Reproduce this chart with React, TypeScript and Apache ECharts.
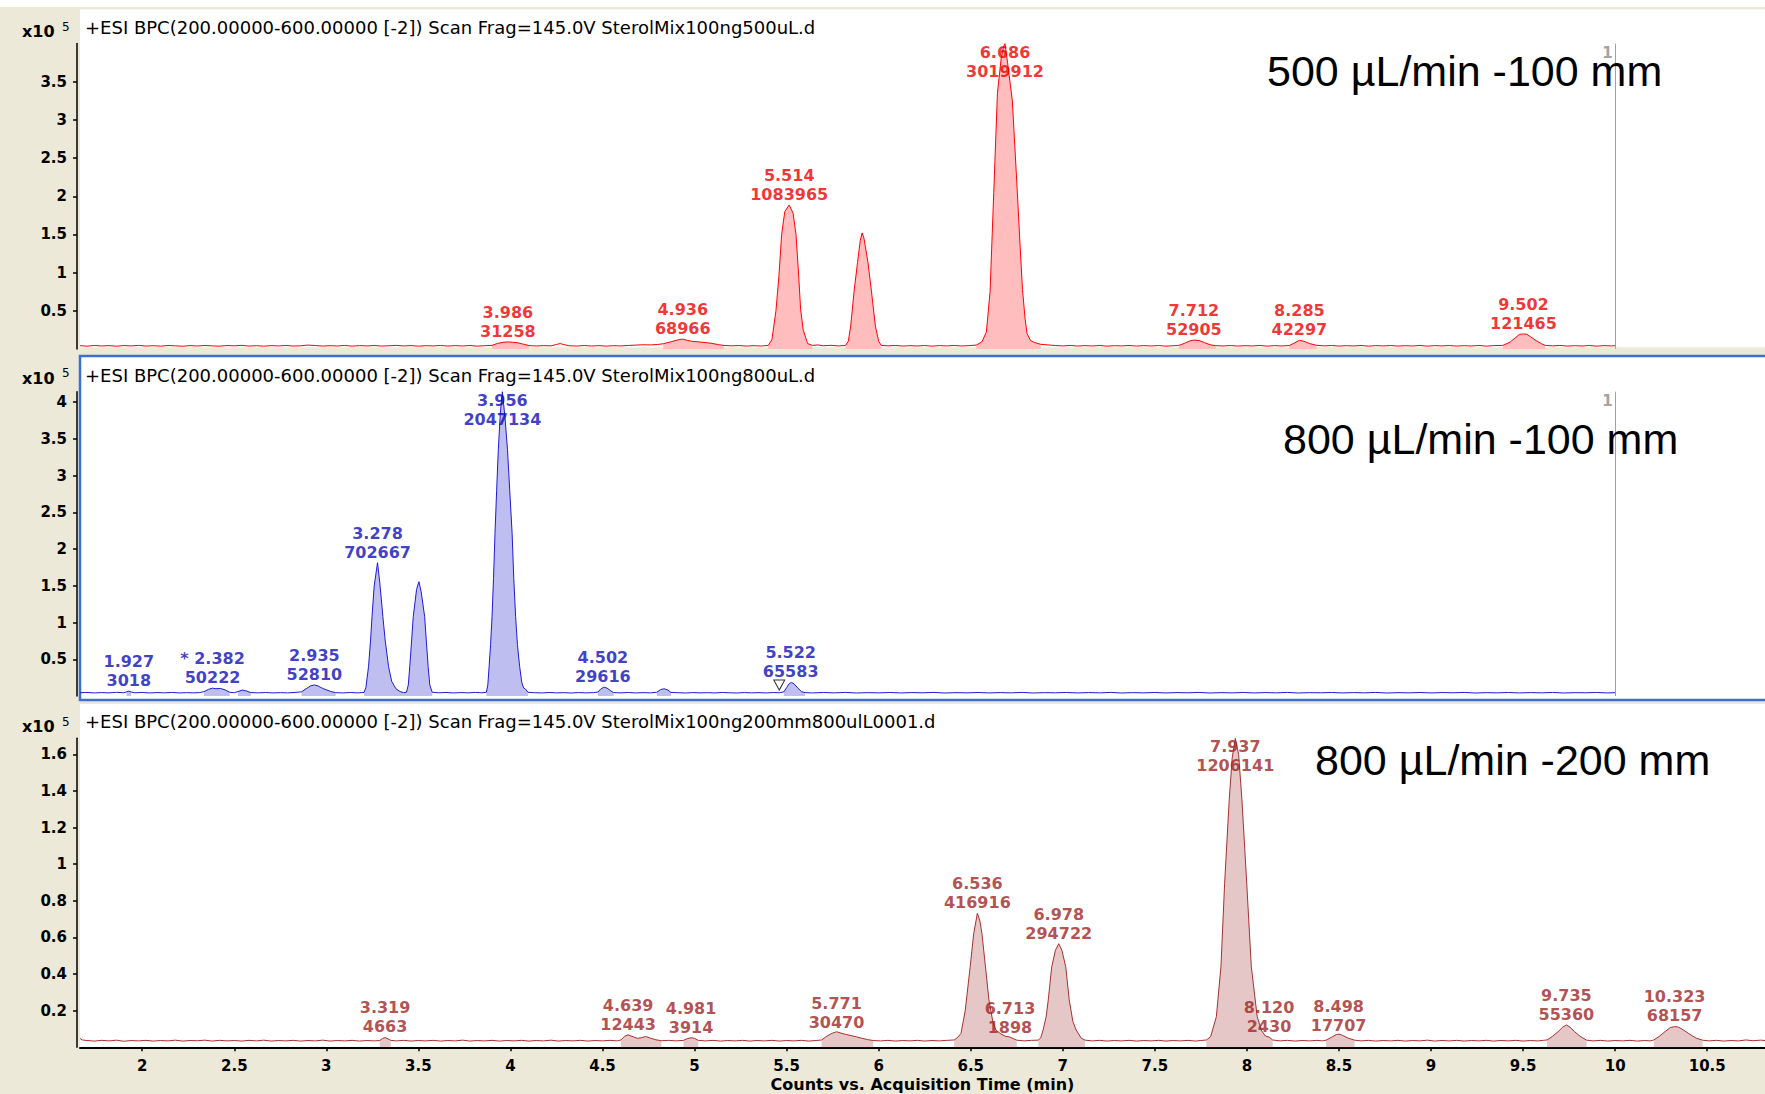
import React, { useEffect, useRef } from "react";
import * as echarts from "echarts";

// ---------- DATA ----------
const X_MIN = 1.662;
const X_MAX = 10.814;
const TRACE_END = 10;
const xTicks = [2, 2.5, 3, 3.5, 4, 4.5, 5, 5.5, 6, 6.5, 7, 7.5, 8, 8.5, 9, 9.5, 10, 10.5];

const yTicks500 = [0.5, 1, 1.5, 2, 2.5, 3, 3.5];
const yTicks800 = [0.5, 1, 1.5, 2, 2.5, 3, 3.5, 4];
const yTicks200 = [0.2, 0.4, 0.6, 0.8, 1, 1.2, 1.4, 1.6];
const yMax500 = 4.0;
const yMax800 = 4.14;
const yMax200 = 1.688;

const titles = [
  "+ESI BPC(200.00000-600.00000 [-2]) Scan Frag=145.0V SterolMix100ng500uL.d",
  "+ESI BPC(200.00000-600.00000 [-2]) Scan Frag=145.0V SterolMix100ng800uL.d",
  "+ESI BPC(200.00000-600.00000 [-2]) Scan Frag=145.0V SterolMix100ng200mm800ulL0001.d",
];
const rateLabels = ["500 µL/min -100 mm", "800 µL/min -100 mm", "800 µL/min -200 mm"];
const xAxisName = "Counts vs. Acquisition Time (min)";

// counts x10^5 vs. acquisition time (min)
const trace500: [number, number][] = [
  [1.662,0.042],[1.70,0.036],[1.74,0.045],[1.78,0.038],[1.82,0.043],[1.86,0.035],[1.90,0.044],[1.94,0.039],[1.98,0.046],[2.02,0.037],[2.06,0.042],[2.10,0.036],[2.14,0.044],[2.18,0.040],[2.22,0.035],[2.26,0.043],[2.30,0.038],[2.34,0.045],[2.38,0.039],[2.42,0.036],[2.46,0.044],[2.50,0.040],[2.54,0.046],[2.58,0.037],[2.62,0.042],[2.66,0.036],[2.70,0.043],[2.74,0.039],[2.78,0.045],[2.82,0.037],[2.86,0.041],[2.90,0.050],[2.94,0.044],[2.98,0.037],[3.02,0.042],[3.06,0.038],[3.10,0.045],[3.14,0.036],[3.18,0.043],[3.22,0.039],[3.26,0.044],[3.30,0.037],[3.34,0.041],[3.38,0.046],[3.42,0.038],[3.46,0.043],[3.50,0.036],[3.54,0.042],[3.58,0.039],[3.62,0.045],[3.66,0.037],[3.70,0.043],[3.74,0.038],[3.78,0.044],[3.82,0.036],[3.86,0.042],
  [3.90,0.046],[3.93,0.072],[3.96,0.086],[3.986,0.092],[4.01,0.087],[4.04,0.080],[4.07,0.062],[4.10,0.044],[4.14,0.038],[4.18,0.043],[4.22,0.040],[4.25,0.058],[4.27,0.070],[4.29,0.056],[4.32,0.041],[4.36,0.037],[4.40,0.044],[4.44,0.038],[4.48,0.043],[4.52,0.036],[4.56,0.042],[4.60,0.039],[4.64,0.045],[4.68,0.050],[4.72,0.054],[4.76,0.052],[4.80,0.058],
  [4.83,0.068],[4.87,0.092],[4.90,0.112],[4.92,0.124],[4.936,0.128],[4.96,0.112],[4.99,0.098],[5.03,0.090],[5.07,0.080],[5.10,0.070],[5.13,0.056],[5.16,0.045],[5.20,0.040],[5.24,0.044],[5.28,0.037],[5.32,0.042],[5.36,0.038],
  [5.40,0.045],[5.42,0.12],[5.442,0.50],[5.458,0.95],[5.473,1.50],[5.49,1.80],[5.514,1.885],[5.535,1.78],[5.551,1.50],[5.565,0.98],[5.576,0.52],[5.59,0.25],[5.614,0.07],[5.64,0.046],[5.67,0.052],[5.70,0.041],[5.74,0.047],[5.78,0.039],
  [5.82,0.045],[5.835,0.10],[5.848,0.30],[5.867,0.77],[5.885,1.13],[5.90,1.42],[5.91,1.52],[5.92,1.45],[5.942,1.13],[5.96,0.77],[5.982,0.30],[6.00,0.10],[6.014,0.046],[6.05,0.040],[6.09,0.045],[6.13,0.037],[6.17,0.042],[6.21,0.038],[6.25,0.044],[6.29,0.036],[6.33,0.043],[6.37,0.039],[6.41,0.045],[6.45,0.038],[6.49,0.043],
  [6.53,0.050],[6.56,0.09],[6.585,0.22],[6.605,0.75],[6.625,2.05],[6.645,3.35],[6.665,3.80],[6.678,3.96],[6.686,4.0],[6.70,3.75],[6.726,3.25],[6.752,2.10],[6.768,1.35],[6.781,0.78],[6.795,0.40],[6.806,0.20],[6.825,0.11],[6.845,0.085],[6.88,0.060],[6.92,0.052],[6.96,0.044],[7.00,0.039],[7.04,0.045],[7.08,0.037],[7.12,0.043],[7.16,0.038],[7.20,0.044],[7.24,0.036],[7.28,0.042],[7.32,0.039],[7.36,0.045],[7.40,0.037],[7.44,0.043],[7.48,0.038],[7.52,0.044],[7.56,0.036],[7.60,0.041],
  [7.63,0.046],[7.66,0.072],[7.69,0.104],[7.712,0.115],[7.74,0.110],[7.77,0.082],[7.80,0.054],[7.83,0.042],[7.87,0.038],[7.91,0.044],[7.95,0.037],[7.99,0.042],[8.03,0.039],[8.07,0.045],[8.11,0.036],[8.15,0.043],[8.19,0.038],
  [8.23,0.044],[8.26,0.080],[8.285,0.112],[8.31,0.100],[8.34,0.070],[8.38,0.046],[8.42,0.040],[8.46,0.044],[8.50,0.037],[8.54,0.042],[8.58,0.038],[8.62,0.045],[8.66,0.036],[8.70,0.043],[8.74,0.039],[8.78,0.044],[8.82,0.037],[8.86,0.042],[8.90,0.038],[8.94,0.045],[8.98,0.036],[9.02,0.043],[9.06,0.039],[9.10,0.044],[9.14,0.037],[9.18,0.042],[9.22,0.038],[9.26,0.045],[9.30,0.036],[9.34,0.043],
  [9.39,0.046],[9.43,0.090],[9.46,0.150],[9.48,0.190],[9.502,0.196],[9.52,0.192],[9.54,0.160],[9.57,0.110],[9.60,0.068],[9.62,0.046],[9.66,0.040],[9.70,0.045],[9.74,0.037],[9.78,0.042],[9.82,0.038],[9.86,0.044],[9.90,0.036],[9.94,0.043],[9.98,0.039],[10.0,0.042],
];
const fillWindows500: [number, number][] = [[3.90,4.10],[4.83,5.16],[5.40,5.64],[5.82,6.014],[6.53,6.88],[7.63,7.83],[8.23,8.38],[9.39,9.62]];
const peakRt500 = [3.986, 4.936, 5.514, 6.686, 7.712, 8.285, 9.502];
const peakArea500 = [31258, 68966, 1083965, 3019912, 52905, 42297, 121465];
const peakTop500 = [0.092, 0.128, 1.885, 4.0, 0.115, 0.112, 0.196];

const trace800: [number, number][] = [
  [1.662,0.046],[1.70,0.050],[1.74,0.043],[1.78,0.048],[1.82,0.044],[1.86,0.051],[1.90,0.045],[1.915,0.058],[1.927,0.068],[1.94,0.055],[1.96,0.045],[2.00,0.049],[2.04,0.043],[2.08,0.048],[2.12,0.044],[2.16,0.050],[2.20,0.043],[2.24,0.047],[2.28,0.044],[2.31,0.048],
  [2.335,0.060],[2.36,0.092],[2.382,0.108],[2.40,0.100],[2.425,0.104],[2.45,0.085],[2.475,0.052],[2.50,0.046],[2.52,0.062],[2.545,0.082],[2.565,0.070],[2.59,0.048],[2.63,0.044],[2.67,0.049],[2.71,0.043],[2.75,0.047],[2.79,0.044],[2.83,0.050],
  [2.865,0.058],[2.89,0.100],[2.915,0.140],[2.935,0.152],[2.955,0.138],[2.98,0.105],[3.00,0.085],[3.025,0.062],[3.05,0.047],[3.09,0.043],[3.13,0.049],[3.17,0.044],
  [3.205,0.050],[3.215,0.12],[3.229,0.40],[3.24,0.75],[3.248,1.08],[3.26,1.50],[3.278,1.815],[3.29,1.55],[3.30,1.28],[3.307,1.08],[3.32,0.75],[3.338,0.40],[3.355,0.20],[3.378,0.10],[3.40,0.062],[3.42,0.047],
  [3.435,0.052],[3.445,0.15],[3.453,0.40],[3.463,0.75],[3.472,1.08],[3.49,1.45],[3.503,1.556],[3.515,1.42],[3.534,1.08],[3.543,0.75],[3.553,0.40],[3.562,0.15],[3.575,0.052],[3.61,0.045],[3.65,0.049],[3.69,0.043],[3.73,0.048],[3.77,0.044],[3.81,0.050],[3.845,0.045],
  [3.869,0.052],[3.877,0.15],[3.884,0.40],[3.892,0.70],[3.900,1.08],[3.908,1.60],[3.916,2.215],[3.925,2.80],[3.934,3.35],[3.945,3.85],[3.956,4.14],[3.97,3.80],[3.984,3.35],[3.996,2.80],[4.009,2.215],[4.018,1.60],[4.028,1.08],[4.038,0.70],[4.05,0.40],[4.062,0.18],[4.072,0.11],[4.082,0.095],[4.095,0.052],[4.13,0.046],[4.17,0.043],[4.21,0.049],[4.25,0.044],[4.29,0.047],[4.33,0.042],[4.37,0.048],[4.41,0.044],[4.45,0.047],
  [4.475,0.055],[4.49,0.095],[4.507,0.122],[4.525,0.108],[4.545,0.072],[4.56,0.048],[4.60,0.044],[4.64,0.049],[4.68,0.043],[4.72,0.047],[4.76,0.044],
  [4.795,0.052],[4.815,0.088],[4.835,0.100],[4.855,0.082],[4.872,0.050],[4.91,0.046],[4.95,0.042],[4.99,0.048],[5.03,0.044],[5.07,0.047],[5.11,0.043],[5.15,0.049],[5.19,0.045],[5.23,0.042],[5.27,0.048],[5.31,0.044],[5.35,0.047],[5.39,0.043],[5.43,0.049],[5.46,0.045],
  [5.485,0.058],[5.50,0.115],[5.515,0.172],[5.527,0.185],[5.54,0.168],[5.56,0.112],[5.58,0.062],[5.60,0.047],[5.64,0.043],[5.70,0.049],[5.76,0.044],[5.82,0.050],[5.88,0.042],[5.94,0.047],[6.00,0.044],[6.06,0.049],[6.12,0.043],[6.18,0.048],[6.24,0.045],[6.30,0.050],[6.36,0.042],[6.42,0.047],[6.48,0.044],[6.54,0.049],[6.60,0.043],[6.66,0.048],[6.72,0.044],[6.78,0.050],[6.84,0.042],[6.90,0.047],[6.96,0.045],[7.02,0.049],[7.08,0.043],[7.14,0.048],[7.20,0.044],[7.26,0.050],[7.32,0.042],[7.38,0.047],[7.44,0.044],[7.50,0.049],[7.56,0.043],[7.62,0.048],[7.68,0.045],[7.74,0.050],[7.80,0.042],[7.86,0.047],[7.92,0.044],[7.98,0.049],[8.04,0.043],[8.10,0.048],[8.16,0.044],[8.22,0.050],[8.28,0.042],[8.34,0.047],[8.40,0.045],[8.46,0.049],[8.52,0.043],[8.58,0.048],[8.64,0.044],[8.70,0.050],[8.76,0.042],[8.82,0.047],[8.88,0.044],[8.94,0.049],[9.00,0.043],[9.06,0.048],[9.12,0.045],[9.18,0.050],[9.24,0.042],[9.30,0.047],[9.36,0.044],[9.42,0.049],[9.48,0.043],[9.54,0.048],[9.60,0.044],[9.66,0.050],[9.72,0.042],[9.78,0.047],[9.84,0.045],[9.90,0.049],[9.96,0.043],[10.0,0.047],
];
const fillWindows800: [number, number][] = [[1.912,1.945],[2.335,2.475],[2.52,2.59],[2.865,3.05],[3.205,3.42],[3.435,3.575],[3.869,4.095],[4.475,4.56],[4.795,4.872],[5.485,5.60]];
const peakRt800 = [1.927, 2.382, 2.935, 3.278, 3.956, 4.502, 5.522];
const peakArea800 = [3018, 50222, 52810, 702667, 2047134, 29616, 65583];
const peakTop800 = [0.075, 0.11, 0.145, 1.815, 4.14, 0.124, 0.185];
const starredRt800 = [2.382];
const triangleMarks800: [number, number][] = [[5.46, 0.15]];

const trace200: [number, number][] = [
  [1.662,0.048],[1.675,0.040],[1.70,0.037],[1.74,0.034],[1.78,0.038],[1.82,0.035],[1.86,0.039],[1.90,0.033],[1.94,0.037],[1.98,0.035],[2.02,0.038],[2.06,0.034],[2.10,0.037],[2.14,0.035],[2.18,0.039],[2.22,0.034],[2.26,0.037],[2.30,0.036],[2.34,0.039],[2.38,0.034],[2.42,0.038],[2.46,0.035],[2.50,0.037],[2.54,0.034],[2.58,0.038],[2.62,0.035],[2.66,0.039],[2.70,0.034],[2.74,0.037],[2.78,0.035],[2.82,0.038],[2.86,0.034],[2.90,0.037],[2.94,0.035],[2.98,0.039],[3.02,0.034],[3.06,0.037],[3.10,0.035],[3.14,0.038],[3.18,0.034],[3.22,0.037],[3.26,0.035],
  [3.29,0.037],[3.305,0.048],[3.319,0.053],[3.335,0.046],[3.35,0.038],[3.38,0.035],[3.42,0.038],[3.46,0.034],[3.50,0.037],[3.54,0.035],[3.58,0.038],[3.62,0.034],[3.66,0.037],[3.70,0.035],[3.74,0.039],[3.78,0.034],[3.82,0.037],[3.86,0.035],[3.90,0.038],[3.94,0.034],[3.98,0.037],[4.02,0.035],[4.06,0.038],[4.10,0.034],[4.14,0.037],[4.18,0.035],[4.22,0.039],[4.26,0.034],[4.30,0.037],[4.34,0.035],[4.38,0.038],[4.42,0.034],[4.46,0.037],[4.50,0.035],[4.54,0.038],[4.58,0.035],
  [4.60,0.040],[4.62,0.060],[4.639,0.068],[4.66,0.060],[4.69,0.049],[4.71,0.052],[4.735,0.059],[4.76,0.050],[4.79,0.041],[4.82,0.036],[4.86,0.038],[4.90,0.035],
  [4.94,0.038],[4.96,0.047],[4.981,0.052],[5.00,0.049],[5.02,0.038],[5.06,0.035],[5.10,0.038],[5.14,0.034],[5.18,0.037],[5.22,0.035],[5.26,0.038],[5.30,0.034],[5.34,0.037],[5.38,0.035],[5.42,0.038],[5.46,0.034],[5.50,0.037],[5.54,0.035],[5.58,0.038],[5.62,0.034],[5.66,0.037],
  [5.69,0.040],[5.72,0.062],[5.75,0.078],[5.771,0.085],[5.79,0.079],[5.82,0.071],[5.85,0.064],[5.88,0.057],[5.91,0.049],[5.94,0.042],[5.97,0.037],[6.01,0.035],[6.05,0.038],[6.09,0.034],[6.13,0.037],[6.17,0.035],[6.21,0.038],[6.25,0.034],[6.29,0.037],[6.33,0.035],[6.37,0.038],
  [6.41,0.040],[6.43,0.055],[6.447,0.076],[6.47,0.20],[6.497,0.44],[6.516,0.62],[6.536,0.732],[6.55,0.69],[6.561,0.62],[6.58,0.44],[6.599,0.258],[6.62,0.14],[6.637,0.094],[6.665,0.072],[6.69,0.060],[6.713,0.056],[6.73,0.048],[6.75,0.039],[6.79,0.035],[6.83,0.038],
  [6.867,0.039],[6.88,0.052],[6.893,0.094],[6.91,0.17],[6.921,0.258],[6.94,0.44],[6.96,0.53],[6.978,0.566],[6.995,0.53],[7.016,0.44],[7.035,0.258],[7.055,0.14],[7.073,0.094],[7.10,0.050],[7.121,0.039],[7.16,0.035],[7.20,0.038],[7.24,0.034],[7.28,0.037],[7.32,0.035],[7.36,0.038],[7.40,0.034],[7.44,0.037],[7.48,0.035],[7.52,0.038],[7.56,0.034],[7.60,0.037],[7.64,0.035],[7.68,0.038],[7.72,0.034],[7.75,0.037],
  [7.78,0.040],[7.803,0.058],[7.834,0.167],[7.859,0.44],[7.879,0.896],[7.904,1.352],[7.92,1.58],[7.937,1.688],[7.955,1.60],[7.973,1.352],[7.999,0.896],[8.024,0.44],[8.056,0.167],[8.08,0.090],[8.10,0.062],[8.12,0.056],[8.14,0.040],[8.18,0.035],[8.22,0.038],[8.26,0.034],[8.30,0.037],[8.34,0.035],[8.38,0.038],[8.41,0.035],
  [8.43,0.039],[8.46,0.055],[8.485,0.069],[8.50,0.072],[8.52,0.065],[8.55,0.050],[8.585,0.039],[8.62,0.035],[8.66,0.038],[8.70,0.034],[8.74,0.037],[8.78,0.035],[8.82,0.038],[8.86,0.034],[8.90,0.037],[8.94,0.035],[8.98,0.039],[9.02,0.034],[9.06,0.037],[9.10,0.035],[9.14,0.038],[9.18,0.034],[9.22,0.037],[9.26,0.035],[9.30,0.038],[9.34,0.034],[9.38,0.037],[9.42,0.035],[9.46,0.038],[9.50,0.034],[9.54,0.037],[9.58,0.035],[9.61,0.038],
  [9.63,0.040],[9.66,0.060],[9.69,0.085],[9.715,0.110],[9.735,0.122],[9.755,0.110],[9.78,0.085],[9.81,0.060],[9.845,0.039],[9.88,0.035],[9.92,0.038],[9.96,0.034],[10.00,0.037],[10.04,0.035],[10.08,0.038],[10.12,0.034],[10.16,0.037],[10.19,0.035],
  [10.21,0.040],[10.24,0.060],[10.27,0.085],[10.30,0.108],[10.323,0.113],[10.345,0.110],[10.37,0.095],[10.40,0.075],[10.44,0.050],[10.475,0.039],[10.51,0.035],[10.55,0.038],[10.59,0.034],[10.63,0.037],[10.67,0.035],[10.71,0.040],[10.75,0.036],[10.79,0.039],[10.814,0.037],
];
const fillWindows200: [number, number][] = [[3.29,3.35],[4.60,4.82],[4.94,5.02],[5.69,5.97],[6.41,6.75],[6.867,7.121],[7.78,8.14],[8.43,8.585],[9.63,9.845],[10.21,10.475]];
const peakRt200 = [3.319, 4.639, 4.981, 5.771, 6.536, 6.713, 6.978, 7.937, 8.120, 8.498, 9.735, 10.323];
const peakArea200 = [4663, 12443, 3914, 30470, 416916, 1898, 294722, 1206141, 2430, 17707, 55360, 68157];
const peakTop200 = [0.056, 0.067, 0.051, 0.08, 0.732, 0.051, 0.566, 1.688, 0.056, 0.06, 0.123, 0.116];

// ---------- LAYOUT / STYLE ----------
const W = 1765;
const H = 1094;
const FONT = "'DejaVu Sans', Verdana, sans-serif";
const PANELS = [
  { gridTop: 43.6, gridH: 305.3, bgY: 9.5, bgH: 337.8, titleY: 27, expY: 31.7, rateX: 1267, rateY: 70.8, border: false,
    line: "#ff0000", fill: "#ffbdbd", label: "#ee0000" },
  { gridTop: 391.7, gridH: 304.4, bgY: 356, bgH: 344, titleY: 375, expY: 378.3, rateX: 1283, rateY: 439, border: true,
    line: "#1c1cd4", fill: "#bebef0", label: "#0c0cbc" },
  { gridTop: 738.3, gridH: 309, bgY: 704, bgH: 342.8, titleY: 721.7, expY: 726.7, rateX: 1315, rateY: 759.5, border: false,
    line: "#a83030", fill: "#e6c7c7", label: "#a02424" },
];

function buildFill(trace: [number, number][], windows: [number, number][]) {
  return trace.map(([t, v]) =>
    windows.some(([a, b]) => t >= a && t <= b) ? [t, v] : [t, "-"]
  );
}

export default function App() {
  const ref = useRef<HTMLDivElement>(null);

  useEffect(() => {
    if (!ref.current) return;
    const chart = echarts.init(ref.current, null, { renderer: "svg", width: W, height: H });

    const panelsData = [
      { trace: trace500, windows: fillWindows500, rt: peakRt500, area: peakArea500, top: peakTop500, yMax: yMax500, yTicks: yTicks500, endMark: true },
      { trace: trace800, windows: fillWindows800, rt: peakRt800, area: peakArea800, top: peakTop800, yMax: yMax800, yTicks: yTicks800, endMark: true },
      { trace: trace200, windows: fillWindows200, rt: peakRt200, area: peakArea200, top: peakTop200, yMax: yMax200, yTicks: yTicks200, endMark: false },
    ];

    const grids = PANELS.map((p) => ({
      left: 80, width: W - 80, top: p.gridTop, height: p.gridH, outerBoundsMode: "none", containLabel: false,
    }));

    const xAxes = PANELS.map((_, i) => ({
      type: "value", gridIndex: i, min: X_MIN, max: X_MAX, show: i === 2, offset: 3,
      axisLine: { show: true, lineStyle: { color: "#000", width: 2 } },
      axisTick: { show: true, length: 4, customValues: xTicks, lineStyle: { color: "#000", width: 1.5 } },
      axisLabel: { customValues: xTicks, formatter: (v: number) => String(v), color: "#000", fontFamily: FONT,
        fontWeight: "bold", fontSize: 15, margin: 8 },
      splitLine: { show: false },
      name: i === 2 ? xAxisName : "", nameLocation: "middle", nameGap: 25,
      nameTextStyle: { color: "#000", fontFamily: FONT, fontWeight: "bold", fontSize: 16, lineHeight: 18 },
    }));

    const yAxes = panelsData.map((d, i) => ({
      type: "value", gridIndex: i, min: 0, max: d.yMax, offset: 3,
      axisLine: { show: true, lineStyle: { color: "#000", width: 1.5 } },
      axisTick: { show: true, length: 4, customValues: d.yTicks, lineStyle: { color: "#000", width: 1.5 } },
      axisLabel: { customValues: d.yTicks, formatter: (v: number) => String(v), color: "#000", fontFamily: FONT,
        fontWeight: "bold", fontSize: 15, margin: 10 },
      splitLine: { show: false },
    }));

    const series: any[] = [];
    panelsData.forEach((d, i) => {
      const p = PANELS[i];
      series.push({
        type: "line", xAxisIndex: i, yAxisIndex: i, data: buildFill(d.trace, d.windows),
        symbol: "none", showSymbol: false, connectNulls: false, silent: true, z: 2,
        lineStyle: { width: 0, opacity: 0 }, areaStyle: { color: p.fill, opacity: 1 },
      });
      const traceSeries: any = {
        type: "line", xAxisIndex: i, yAxisIndex: i, data: d.trace, symbol: "none", showSymbol: false,
        silent: true, z: 3, lineStyle: { color: p.line, width: 1 },
      };
      if (d.endMark) {
        traceSeries.markLine = {
          silent: true, symbol: ["none", "none"], label: { show: false }, animation: false,
          lineStyle: { color: "#a0a0a0", width: 1, type: "solid" }, data: [{ xAxis: TRACE_END }],
        };
      }
      series.push(traceSeries);

      const labelSpan = 0.14 * d.yMax;
      series.push({
        type: "scatter", xAxisIndex: i, yAxisIndex: i, symbolSize: 0, silent: true, z: 5,
        data: d.rt.map((rt, k) => {
          const clamp = d.top[k] + labelSpan > d.yMax;
          return {
            value: [rt, clamp ? d.yMax : d.top[k]],
            label: { position: clamp ? "bottom" : "top", distance: clamp ? -1 : 1 },
          };
        }),
        label: {
          show: true, color: p.label, fontFamily: FONT, fontWeight: "bold", fontSize: 16, lineHeight: 19, align: "center",
          formatter: (prm: any) => {
            const k = prm.dataIndex;
            const rt = d.rt[k];
            const star = i === 1 && starredRt800.includes(rt) ? "* " : "";
            return `${star}${rt.toFixed(3)}\n${d.area[k]}`;
          },
        },
      });
      if (d.endMark) {
        series.push({
          type: "scatter", xAxisIndex: i, yAxisIndex: i, symbolSize: 0, silent: true, z: 5,
          data: [[TRACE_END, d.yMax]],
          label: { show: true, formatter: "1", position: [-13, 2], color: "#8a8a8a", fontFamily: FONT,
            fontWeight: "bold", fontSize: 15 },
        });
      }
      if (i === 1) {
        series.push({
          type: "scatter", xAxisIndex: i, yAxisIndex: i, silent: true, z: 6, data: triangleMarks800,
          symbol: "triangle", symbolRotate: 180, symbolSize: [11, 10],
          itemStyle: { color: "#ffffff", borderColor: "#000", borderWidth: 1 },
        });
      }
    });

    const graphics: any[] = [
      { type: "rect", z: -10, silent: true, shape: { x: 0, y: 7, width: W, height: H - 7 }, style: { fill: "#ECE9D8" } },
    ];
    PANELS.forEach((p, i) => {
      graphics.push({
        type: "rect", z: -9, silent: true,
        shape: { x: 80, y: p.bgY, width: p.border ? W : W - 80, height: p.bgH },
        style: p.border ? { fill: "#ffffff", stroke: "#3c6fd2", lineWidth: 2.5 } : { fill: "#ffffff" },
      });
      graphics.push({
        type: "text", z: 50, silent: true, x: 85, y: p.titleY,
        style: { text: titles[i], fill: "#000", font: `18px ${FONT}`, verticalAlign: "middle", align: "left" },
      });
      graphics.push({
        type: "text", z: 50, silent: true, x: 22, y: p.expY,
        style: { text: "x10", fill: "#000", font: `bold 16px ${FONT}`, verticalAlign: "middle", align: "left" },
      });
      graphics.push({
        type: "text", z: 50, silent: true, x: 62, y: p.expY - 5,
        style: { text: "5", fill: "#000", font: `12px ${FONT}`, verticalAlign: "middle", align: "left" },
      });
      graphics.push({
        type: "text", z: 60, silent: true, x: p.rateX, y: p.rateY,
        style: { text: rateLabels[i], fill: "#000", font: `43px 'Liberation Sans', Arial, sans-serif`,
          verticalAlign: "middle", align: "left" },
      });
    });

    chart.setOption({
      animation: false,
      textStyle: { fontFamily: FONT },
      grid: grids,
      xAxis: xAxes,
      yAxis: yAxes,
      series,
      graphic: { elements: graphics },
    });

    return () => chart.dispose();
  }, []);

  return (
    <div
      ref={ref}
      style={{ position: "fixed", left: 0, top: 0, width: W, height: H, background: "#ffffff" }}
    />
  );
}
